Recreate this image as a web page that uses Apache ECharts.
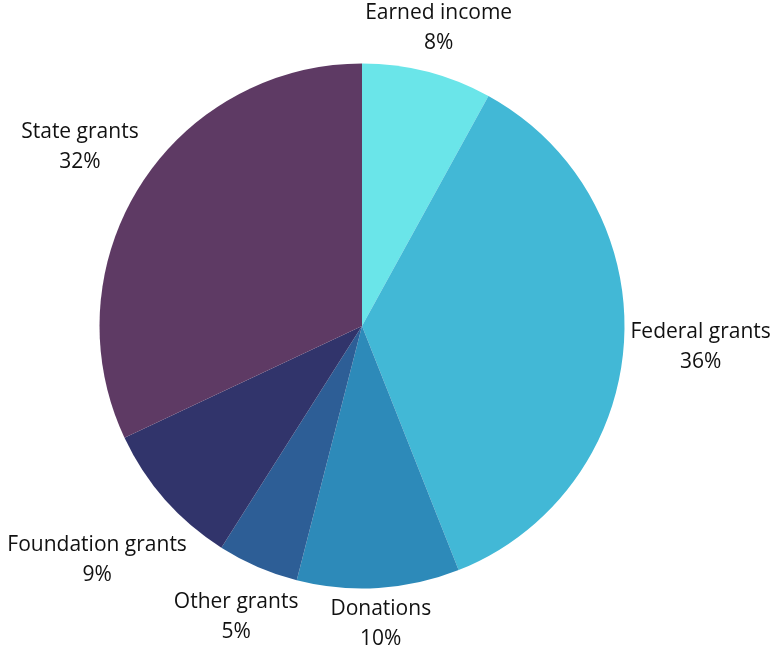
<!DOCTYPE html>
<html>
<head>
<meta charset="utf-8">
<script src="https://cdn.jsdelivr.net/npm/echarts@6/dist/echarts.min.js"></script>
<style>
html,body{margin:0;padding:0;background:#fff;}
#chart{width:774px;height:645px;}
</style>
</head>
<body>
<div id="chart"></div>
<script>
var categories = ['Earned income', 'Federal grants', 'Donations', 'Other grants', 'Foundation grants', 'State grants'];
var values = [8, 36, 10, 5, 9, 32];
var colors = ['#6ae5e9', '#42b8d6', '#2d8ab9', '#2d5e96', '#31346b', '#5e3a64'];

var CX = 362, CY = 326, R = 262.5, GAP = 6;

var total = values.reduce(function (a, b) { return a + b; }, 0);
function midAngle(i) {
  var before = 0;
  for (var k = 0; k < i; k++) before += values[k];
  return (before + values[i] / 2) / total * Math.PI * 2; // clockwise from top
}
function nearestDist(cx, cy, w, h) {
  var nx = Math.max(cx - w / 2, Math.min(0, cx + w / 2));
  var ny = Math.max(cy - h / 2, Math.min(0, cy + h / 2));
  return Math.sqrt(nx * nx + ny * ny);
}

var chart = echarts.init(document.getElementById('chart'));
chart.setOption({
  animation: false,
  series: [{
    type: 'pie',
    center: [CX, CY],
    radius: R,
    startAngle: 90,
    clockwise: true,
    avoidLabelOverlap: false,
    data: categories.map(function (c, i) {
      return { name: c, value: values[i], itemStyle: { color: colors[i] } };
    }),
    label: {
      show: true,
      position: 'outside',
      formatter: '{b}\n{c}%',
      fontFamily: 'Open Sans',
      fontSize: 21,
      lineHeight: 30,
      color: '#111111'
    },
    labelLine: { show: false, length: 0, length2: 0 },
    labelLayout: function (p) {
      var a = midAngle(p.dataIndex);
      var dx = Math.sin(a), dy = -Math.cos(a);
      var w = p.labelRect.width, h = p.labelRect.height;
      var lo = R, hi = R + 400;
      for (var it = 0; it < 50; it++) {
        var mid = (lo + hi) / 2;
        if (nearestDist(dx * mid, dy * mid, w, h) < R + GAP) lo = mid; else hi = mid;
      }
      return {
        x: CX + dx * hi,
        y: CY + dy * hi,
        align: 'center',
        verticalAlign: 'middle'
      };
    }
  }]
});
</script>
</body>
</html>
